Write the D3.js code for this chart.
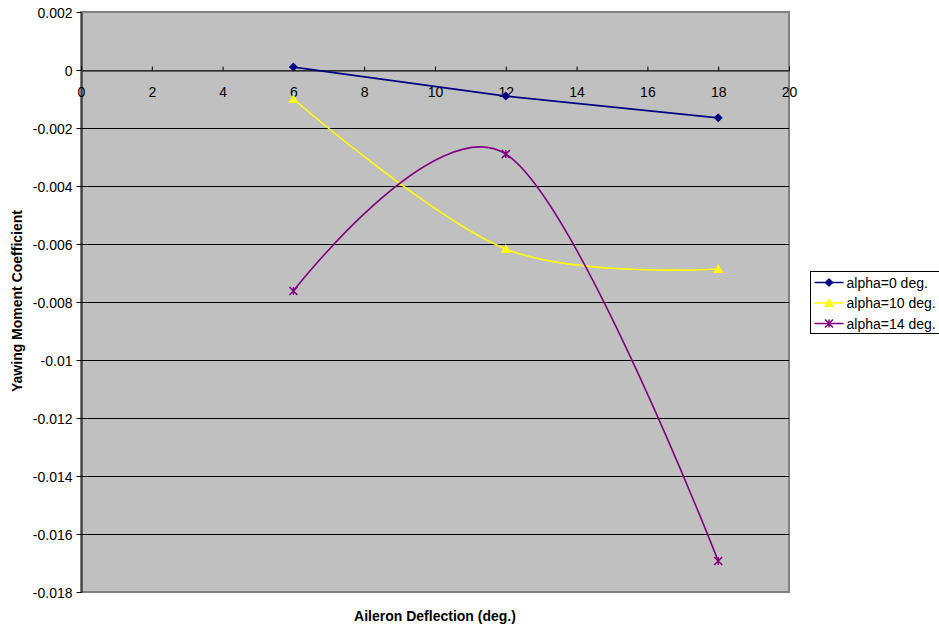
<!DOCTYPE html>
<html>
<head>
<meta charset="utf-8">
<script src="https://cdn.jsdelivr.net/npm/d3@7/dist/d3.min.js"></script>
<style>
  html, body { margin: 0; padding: 0; background: #fff; }
  svg { display: block; }
  text { font-family: "Liberation Sans", Arial, sans-serif; }
</style>
</head>
<body>
<svg id="chart" width="939" height="625"></svg>
<script>
// Aileron deflection (deg.) at which yawing moment was measured
const deflection = [6, 12, 18];

// Yawing moment coefficient per angle of attack
const seriesNames = ["alpha=0 deg.", "alpha=10 deg.", "alpha=14 deg."];
const alpha0  = [0.0001, -0.0009, -0.00165];
const alpha10 = [-0.0010, -0.00617, -0.00686];
const alpha14 = [-0.00762, -0.0029, -0.01693];

// Axis ticks
const xTicks = [0, 2, 4, 6, 8, 10, 12, 14, 16, 18, 20];
const yTicks = [0.002, 0, -0.002, -0.004, -0.006, -0.008, -0.01, -0.012, -0.014, -0.016, -0.018];

const colors = ["#000080", "#FFFF00", "#800080"];
const markers = ["diamond", "triangle", "asterisk"];
const smooth = [false, true, true];

const svg = d3.select("#chart");
const plot = { left: 81, top: 12, right: 789, bottom: 592 };

const x = d3.scaleLinear().domain([0, 20]).range([plot.left, plot.right]);
const y = d3.scaleLinear().domain([-0.018, 0.002]).range([plot.bottom, plot.top]);

// plot background
svg.append("rect")
  .attr("x", plot.left).attr("y", plot.top)
  .attr("width", plot.right - plot.left).attr("height", plot.bottom - plot.top)
  .attr("fill", "#C0C0C0").attr("stroke", "#808080").attr("stroke-width", 2);

// horizontal gridlines
svg.append("g").selectAll("line").data(yTicks.filter(v => v !== 0.002 && v !== -0.018)).join("line")
  .attr("x1", plot.left).attr("x2", plot.right)
  .attr("y1", d => Math.round(y(d)) + 0.5).attr("y2", d => Math.round(y(d)) + 0.5)
  .attr("stroke", "#000").attr("stroke-width", 1);

// y axis
const fmt = v => String(+v.toFixed(3));
const yAxis = d3.axisLeft(y).tickValues(yTicks).tickFormat(fmt).tickSize(5).tickSizeOuter(0);
const gy = svg.append("g").attr("transform", `translate(${plot.left + 0.5},0)`).call(yAxis);
gy.select(".domain").attr("stroke", "#000");
gy.selectAll(".tick line").attr("stroke", "#000");
gy.selectAll(".tick text").attr("font-size", 14).attr("font-family", "Liberation Sans, Arial, sans-serif")
  .attr("fill", "#000").attr("x", -9).attr("dy", "0.36em");

// x axis crossing at zero
const xAxis = d3.axisBottom(x).tickValues(xTicks).tickFormat(d3.format("d")).tickSize(0).tickSizeOuter(0);
const gx = svg.append("g").attr("transform", `translate(0,${Math.round(y(0)) + 0.5})`).call(xAxis);
gx.select(".domain").attr("stroke", "#404040").attr("stroke-width", 1.5);
gx.selectAll(".tick line").attr("y2", -4).attr("stroke", "#000");
gx.selectAll(".tick text").attr("font-size", 14).attr("font-family", "Liberation Sans, Arial, sans-serif")
  .attr("fill", "#000").attr("dy", "0").attr("y", 26);

// series lines
const series = [alpha0, alpha10, alpha14];
series.forEach((vals, i) => {
  const pts = deflection.map((d, j) => [d, vals[j]]);
  const line = d3.line().x(d => x(d[0])).y(d => y(d[1]))
    .curve(smooth[i] ? d3.curveCardinal.tension(0) : d3.curveLinear);
  svg.append("path").datum(pts).attr("d", line)
    .attr("fill", "none").attr("stroke", colors[i]).attr("stroke-width", 1.6);
});

function drawMarker(g, type, color, cx, cy) {
  if (type === "diamond") {
    const s = 4.5;
    g.append("path").attr("d", `M${cx},${cy - s}L${cx + s},${cy}L${cx},${cy + s}L${cx - s},${cy}Z`)
      .attr("fill", color);
  } else if (type === "triangle") {
    g.append("path").attr("d", `M${cx},${cy - 5}L${cx + 5},${cy + 4}L${cx - 5},${cy + 4}Z`)
      .attr("fill", color);
  } else {
    const s = 4;
    const p = `M${cx - s},${cy - s}L${cx + s},${cy + s}M${cx - s},${cy + s}L${cx + s},${cy - s}M${cx},${cy - s}L${cx},${cy + s}`;
    g.append("path").attr("d", p).attr("stroke", color).attr("stroke-width", 1.5).attr("fill", "none");
  }
}

// markers
series.forEach((vals, i) => {
  const g = svg.append("g");
  deflection.forEach((d, j) => drawMarker(g, markers[i], colors[i], x(d), y(vals[j])));
});

// axis titles
svg.append("text").attr("x", 435).attr("y", 621).attr("text-anchor", "middle")
  .attr("font-size", 14).attr("font-weight", "bold").text("Aileron Deflection (deg.)");
svg.append("text").attr("transform", "translate(22,301) rotate(-90)").attr("text-anchor", "middle")
  .attr("font-size", 14).attr("font-weight", "bold").text("Yawing Moment Coefficient");

// legend
const lg = svg.append("g").attr("transform", "translate(810.5,271.5)");
lg.append("rect").attr("width", 140).attr("height", 62).attr("fill", "#fff").attr("stroke", "#000");
seriesNames.forEach((name, i) => {
  const cy = 11 + i * 20.5;
  lg.append("line").attr("x1", 4).attr("x2", 33).attr("y1", cy).attr("y2", cy)
    .attr("stroke", colors[i]).attr("stroke-width", 1.5);
  drawMarker(lg, markers[i], colors[i], 18.5, cy);
  lg.append("text").attr("x", 36).attr("y", cy + 5).attr("font-size", 14).text(name);
});
</script>
</body>
</html>
